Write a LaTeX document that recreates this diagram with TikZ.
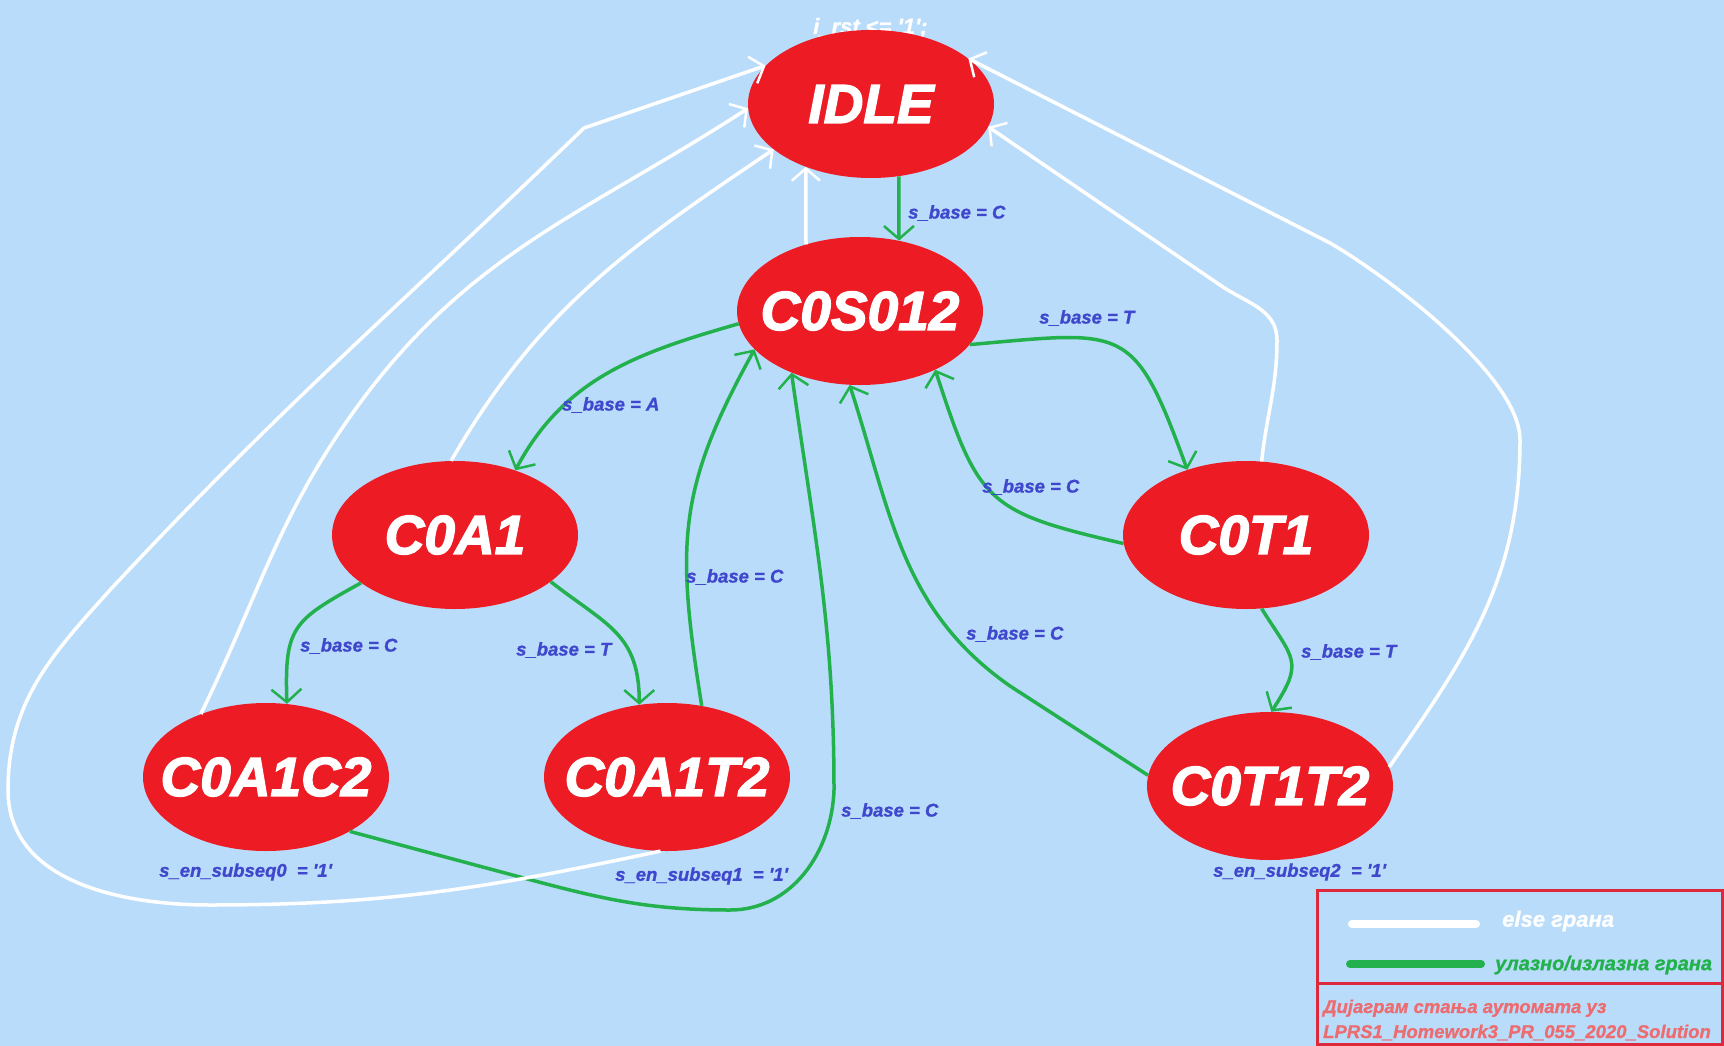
\documentclass[tikz,border=0pt]{standalone}
\usepackage{fontspec}
\setmainfont{Liberation Sans}
\newfontfamily\heavyfont{Liberation Sans}[BoldItalicFeatures={FakeBold=2.5}]
\newfontfamily\lblfont{Liberation Sans}[BoldItalicFeatures={FakeBold=1}]
\usetikzlibrary{arrows.meta,shapes.geometric}

\definecolor{bgblue}{RGB}{186,220,251}
\definecolor{statered}{RGB}{237,28,36}
\definecolor{edgegreen}{RGB}{34,177,76}
\definecolor{lblblue}{RGB}{63,72,204}
\definecolor{boxred}{RGB}{222,40,60}
\definecolor{titlered}{RGB}{236,108,112}

\newcommand{\stname}[1]{\makebox[0pt]{#1}}

\tikzset{
    fsmstate/.style={ellipse, fill=statered, minimum width=246pt, minimum height=148pt,
        inner sep=0pt, text=white, font=\heavyfont\fontsize{55}{60}\selectfont\bfseries\itshape},
    greenedge/.style={draw=edgegreen, line width=3.5pt,
        -{Straight Barb[length=13pt,width=30pt,line width=2.5pt]}},
    elseedge/.style={draw=white, line width=3.5pt,
        -{Straight Barb[length=12pt,width=28pt,line width=2.5pt]}},
    lbl/.style={text=lblblue, anchor=west, inner sep=0pt,
        font=\lblfont\fontsize{18.5}{20}\selectfont\bfseries\itshape},
    legendtxt/.style={anchor=west, inner sep=0pt, font=\bfseries\itshape}
}

\begin{document}
\begin{tikzpicture}[x=1pt, y=-1pt]
    \useasboundingbox (0,0) rectangle (1724,1046);
    \fill[bgblue] (0,0) rectangle (1724,1046);

    % reset
    \node[text=white, anchor=base west, inner sep=0pt, font=\lblfont\fontsize{22}{24}\selectfont\bfseries\itshape]
        (rst) at (813,34) {i\_rst <= \textquotesingle 1\textquotesingle;};

    % states
    \node[fsmstate] (IDLE)   at (871,104) {\stname{IDLE}};
    \node[fsmstate] (C0S012) at (860,311) {\stname{C0S012}};
    \node[fsmstate] (C0A1)   at (455,535) {\stname{C0A1}};
    \node[fsmstate] (C0T1)   at (1246,535) {\stname{C0T1}};
    \node[fsmstate] (C0A1C2) at (266,777) {\stname{C0A1C2}};
    \node[fsmstate] (C0A1T2) at (667,777) {\stname{C0A1T2}};
    \node[fsmstate] (C0T1T2) at (1270,786) {\stname{C0T1T2}};

    % input/output edges
    \draw[greenedge] (IDLE.-69) -- (C0S012.61);
    \draw[greenedge] (C0S012.186) to[out=196, in=62] (C0A1.47);
    \draw[greenedge] (C0S012.-17) to[out=5, in=110, looseness=1.6] (C0T1.132);
    \draw[greenedge] (C0T1.184) to[out=167, in=-72, looseness=1.4] (C0S012.-38);
    \draw[greenedge] (C0T1.-78) to[out=-58, in=57, looseness=1.5] (C0T1T2.89);
    \draw[greenedge] (C0A1.207) to[out=209, in=92, looseness=1.4] (C0A1C2.74);
    \draw[greenedge] (C0A1.-26) to[out=-38, in=90, looseness=1.2] (C0A1T2.111);
    \draw[greenedge] (C0A1T2.64) to[out=99, in=241, looseness=1.15] (C0S012.200);
    \draw[greenedge] (C0T1T2.175) -- (1010,686) to[out=145, in=-72] (C0S012.262);
    \draw[greenedge] (C0A1C2.-33) -- (520,877) to[out=-15, in=180] (730,910)
        to[out=0, in=-92] (834,790) to[out=90, in=-82] (C0S012.222);

    % else edges
    \draw[elseedge] (C0S012.129) -- (IDLE.-136);
    \draw[elseedge] (C0A1T2.265) to[out=192, in=0] (210,905) to[out=180, in=-90] (8,790)
        to[out=90, in=228] (110,590) to[out=47, in=224] (584,128) -- (IDLE.160);
    \draw[elseedge] (C0A1C2.136) to[out=64, in=234] (357,407) to[out=54, in=213] (IDLE.182);
    \draw[elseedge] (C0A1.93) to[out=60, in=214] (IDLE.205);
    \draw[elseedge] (C0T1.78) to[out=84, in=-90] (1277,340) to[out=90, in=-35] (1220,285) -- (IDLE.-11);
    \draw[elseedge] (C0T1T2.9) to[out=55, in=-90] (1520,440)
        to[out=90, in=-30, looseness=0.6] (1330,243) -- (IDLE.25);

    % conditions
    \node[lbl] (cIdle)  at (908,213) {s\_base = C};
    \node[lbl] (cS0T)   at (1039,318) {s\_base = T};
    \node[lbl] (cS0A)   at (562,405) {s\_base = A};
    \node[lbl] (cT1C)   at (982,487) {s\_base = C};
    \node[lbl] (cA1C)   at (300,646) {s\_base = C};
    \node[lbl] (cA1T)   at (516,650) {s\_base = T};
    \node[lbl] (cA1T2C) at (686,577) {s\_base = C};
    \node[lbl] (cT1T2C) at (966,634) {s\_base = C};
    \node[lbl] (cT1T)   at (1301,652) {s\_base = T};
    \node[lbl] (cA1C2C) at (841,811) {s\_base = C};
    \node[lbl] (sub0) at (159,872) {s\_en\_subseq0\ \ = \textquotesingle 1\textquotesingle};
    \node[lbl] (sub1) at (615,876) {s\_en\_subseq1\ \ = \textquotesingle 1\textquotesingle};
    \node[lbl] (sub2) at (1213,872) {s\_en\_subseq2\ \ = \textquotesingle 1\textquotesingle};

    % legend
    \draw[boxred, line width=3pt] (1317,890) rectangle (1722,983);
    \draw[boxred, line width=3pt] (1317,983) rectangle (1722,1044);
    \draw[white, line width=8pt, line cap=round] (1352,924) -- (1476,924);
    \draw[edgegreen, line width=8pt, line cap=round] (1350,964) -- (1481,964);
    \node[legendtxt, text=white, font=\lblfont\fontsize{22}{24}\selectfont\bfseries\itshape]
        (lgElse) at (1502,921) {else грана};
    \node[legendtxt, text=edgegreen, font=\lblfont\fontsize{20}{22}\selectfont\bfseries\itshape]
        (lgIo) at (1495,965) {улазно/излазна грана};
    \node[legendtxt, text=titlered, anchor=base west, font=\lblfont\fontsize{18.5}{21}\selectfont\bfseries\itshape]
        (lgTitleA) at (1323,1013) {Дијаграм стања аутомата уз};
    \node[legendtxt, text=titlered, anchor=base west, font=\lblfont\fontsize{18.5}{21}\selectfont\bfseries\itshape]
        (lgTitleB) at (1323,1038) {LPRS1\_Homework3\_PR\_055\_2020\_Solution};
\end{tikzpicture}
\end{document}
